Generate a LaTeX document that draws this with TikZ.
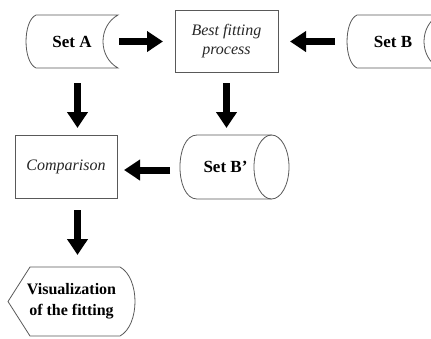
\documentclass[tikz,border=0pt]{standalone}
\usepackage{fontspec}
\setmainfont{Liberation Serif}
\usetikzlibrary{positioning,arrows.meta,calc}

\begin{document}
\begin{tikzpicture}[
            x=1pt, y=-1pt,
            outer sep=0pt,
            outline/.style={
                draw=black!65, line width=0.8pt
            },
            setlabel/.style={
                inner sep=0pt, font=\bfseries\fontsize{17}{20}\selectfont, anchor=center
            },
            procbox/.style={
                outline, inner sep=0pt, text=black!85, align=center, font=\itshape\fontsize{16}{19}\selectfont, anchor=center
            },
            bigarrow/.style={
                line width=7pt, -{Triangle[length=16pt,width=20pt]}
            }
        ]
            \useasboundingbox (0,0) rectangle (431,338);
            \clip (0,0) rectangle (431,338);

            % --- NODES ---
            \node[setlabel, minimum width=92pt, minimum height=53pt] (setA) at (72,41.5) {Set A};
            \node[procbox, minimum width=103pt, minimum height=62pt] (best) at (226.5,41) {Best fitting\\process};
            \node[setlabel, minimum width=92pt, minimum height=53pt] (setB) at (393,41.5) {Set B};
            \node[procbox, minimum width=102pt, minimum height=63pt] (comp) at (66,166.5) {Comparison};
            \node[setlabel, minimum width=91pt, minimum height=64pt] (setBp) at (225.5,167) {Set B’};
            \node[setlabel, align=center, font=\bfseries\fontsize{16}{21}\selectfont,
                  minimum width=127pt, minimum height=69pt] (vis) at (71.5,301.5) {Visualization\\of the fitting};

            % --- OUTLINES ---
            % stored data shapes
            \draw[outline] (36,15) -- (118,15) .. controls (98,26) and (98,57) .. (118,68)
                -- (36,68) .. controls (22.7,62) and (22.7,21) .. cycle;
            \draw[outline] (357,15) -- (439,15) .. controls (419,26) and (419,57) .. (439,68)
                -- (357,68) .. controls (343.7,62) and (343.7,21) .. cycle;
            % cylinder
            \draw[outline] (271.5,135) -- (197,135) .. controls (174.3,135) and (174.3,199) .. (197,199) -- (271.5,199);
            \draw[outline] (271.5,167) ellipse [x radius=17.5, y radius=32];
            % display shape
            \draw[outline] (8,301.5) -- (30,267) -- (120,267) .. controls (140,278) and (140,325) .. (120,336)
                -- (30,336) -- cycle;

            % --- ARROWS ---
            \draw[bigarrow, shorten <=1pt, shorten >=12pt] (setA.east) -- (setA.east -| best.west);
            \draw[bigarrow, shorten <=12pt, shorten >=12pt] (setB.west) -- (setB.west -| best.east);
            \draw[bigarrow, shorten <=15pt, shorten >=7pt] ([xshift=5.5pt]setA.south) -- ([xshift=5.5pt]setA.south |- comp.north);
            \draw[bigarrow, shorten <=11pt, shorten >=7pt] (best.south) -- (best.south |- setBp.north);
            \draw[bigarrow, shorten <=10pt, shorten >=7pt] ([yshift=-3pt]setBp.west) -- ([yshift=-3pt]setBp.west -| comp.east);
            \draw[bigarrow, shorten <=12pt, shorten >=12pt] ([xshift=11.5pt]comp.south) -- ([xshift=11.5pt]comp.south |- vis.north);

        \end{tikzpicture}
\end{document}
